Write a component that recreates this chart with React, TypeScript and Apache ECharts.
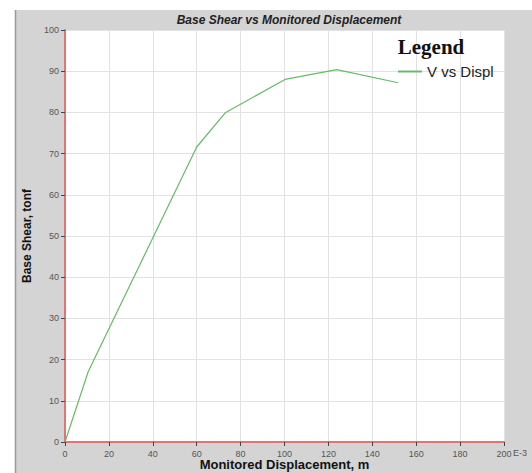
import React, { useEffect, useRef } from "react";
import * as echarts from "echarts";

const displacement = [0, 10.6, 60.0, 73.0, 100.2, 123.8, 151.8];
const baseShear = [0, 17.1, 71.6, 79.9, 88.0, 90.4, 87.2];
const seriesName = "V vs Displ";
const chartTitle = "Base Shear vs Monitored Displacement";
const xName = "Monitored Displacement, m";
const yName = "Base Shear, tonf";

export default function App() {
  const ref = useRef<HTMLDivElement>(null);
  useEffect(() => {
    if (!ref.current) return;
    const chart = echarts.init(ref.current, null, { renderer: "svg" });
    const data = displacement.map((x, i) => [x, baseShear[i]]);
    chart.setOption({
      animation: false,
      backgroundColor: "#d4d4d4",
      title: {
        text: chartTitle,
        left: 284,
        textAlign: "center",
        top: 9,
        textStyle: {
          fontFamily: "Liberation Sans, Arial",
          fontSize: 12,
          fontWeight: "bold",
          fontStyle: "italic",
          color: "#222",
        },
      },
      graphic: [
        { type: "rect", shape: { x: 0, y: 0, width: 532, height: 10 }, style: { fill: "#fff" }, z: 100 },
        { type: "rect", shape: { x: 0, y: 0, width: 15, height: 473 }, style: { fill: "#fff" }, z: 100 },
        { type: "line", shape: { x1: 15.5, y1: 10, x2: 15.5, y2: 473 }, style: { stroke: "#999", lineWidth: 1.5 }, z: 100 },
        {
          type: "text",
          x: 431,
          y: 47,
          style: {
            text: "Legend",
            font: "bold 21px 'Liberation Serif', 'Times New Roman', serif",
            fill: "#111",
            align: "center",
            verticalAlign: "middle",
          },
          z: 100,
        },
        {
          type: "text",
          x: 513,
          y: 453,
          style: {
            text: "E-3",
            font: "9px 'Liberation Sans', Arial",
            fill: "#555",
            align: "left",
            verticalAlign: "middle",
          },
          z: 100,
        },
      ],
      legend: {
        left: 398,
        top: 64,
        itemWidth: 24,
        itemHeight: 2,
        itemGap: 4,
        icon: "rect",
        data: [{ name: seriesName, icon: "rect", itemStyle: { color: "#66bb66" } }],
        textStyle: { fontFamily: "Liberation Sans, Arial", fontSize: 15, color: "#222", padding: [0, 0, 0, 0] },
        itemStyle: { borderWidth: 0 },
        padding: 0,
      },
      grid: {
        left: 65,
        right: 28,
        top: 30,
        bottom: 31,
        show: true,
        backgroundColor: "#ffffff",
        borderWidth: 0,
        outerBoundsMode: "none",
        containLabel: false,
      },
      xAxis: {
        type: "value",
        min: 0,
        max: 200,
        interval: 20,
        name: xName,
        nameLocation: "middle",
        nameGap: 16,
        nameMoveOverlap: false,
        nameTextStyle: {
          fontFamily: "Liberation Sans, Arial",
          fontSize: 13,
          fontWeight: "bold",
          color: "#111",
          verticalAlign: "top",
        },
        axisLine: { show: true, lineStyle: { color: "#e57373", width: 2 } },
        axisTick: { show: true, length: 4, lineStyle: { color: "#444" } },
        axisLabel: { fontFamily: "Liberation Sans, Arial", fontSize: 9, color: "#555", margin: 7 },
        splitLine: { show: true, lineStyle: { color: "#e2e2e2", width: 1 } },
      },
      yAxis: {
        type: "value",
        min: 0,
        max: 100,
        interval: 10,
        name: yName,
        nameLocation: "middle",
        nameGap: 32,
        nameTextStyle: { fontFamily: "Liberation Sans, Arial", fontSize: 12, fontWeight: "bold", color: "#111" },
        axisLine: { show: true, lineStyle: { color: "#e57373", width: 2 } },
        axisTick: { show: true, length: 4, lineStyle: { color: "#444" } },
        axisLabel: { fontFamily: "Liberation Sans, Arial", fontSize: 9, color: "#555", margin: 6 },
        splitLine: { show: true, lineStyle: { color: "#e2e2e2", width: 1 } },
      },
      series: [
        {
          name: seriesName,
          type: "line",
          data,
          showSymbol: false,
          symbol: "none",
          lineStyle: { color: "#66bb66", width: 1.2 },
          itemStyle: { color: "#66bb66" },
          z: 5,
        },
      ],
    });
    return () => chart.dispose();
  }, []);
  return (
    <div
      ref={ref}
      style={{ position: "fixed", left: 0, top: 0, width: 532, height: 473 }}
    />
  );
}
